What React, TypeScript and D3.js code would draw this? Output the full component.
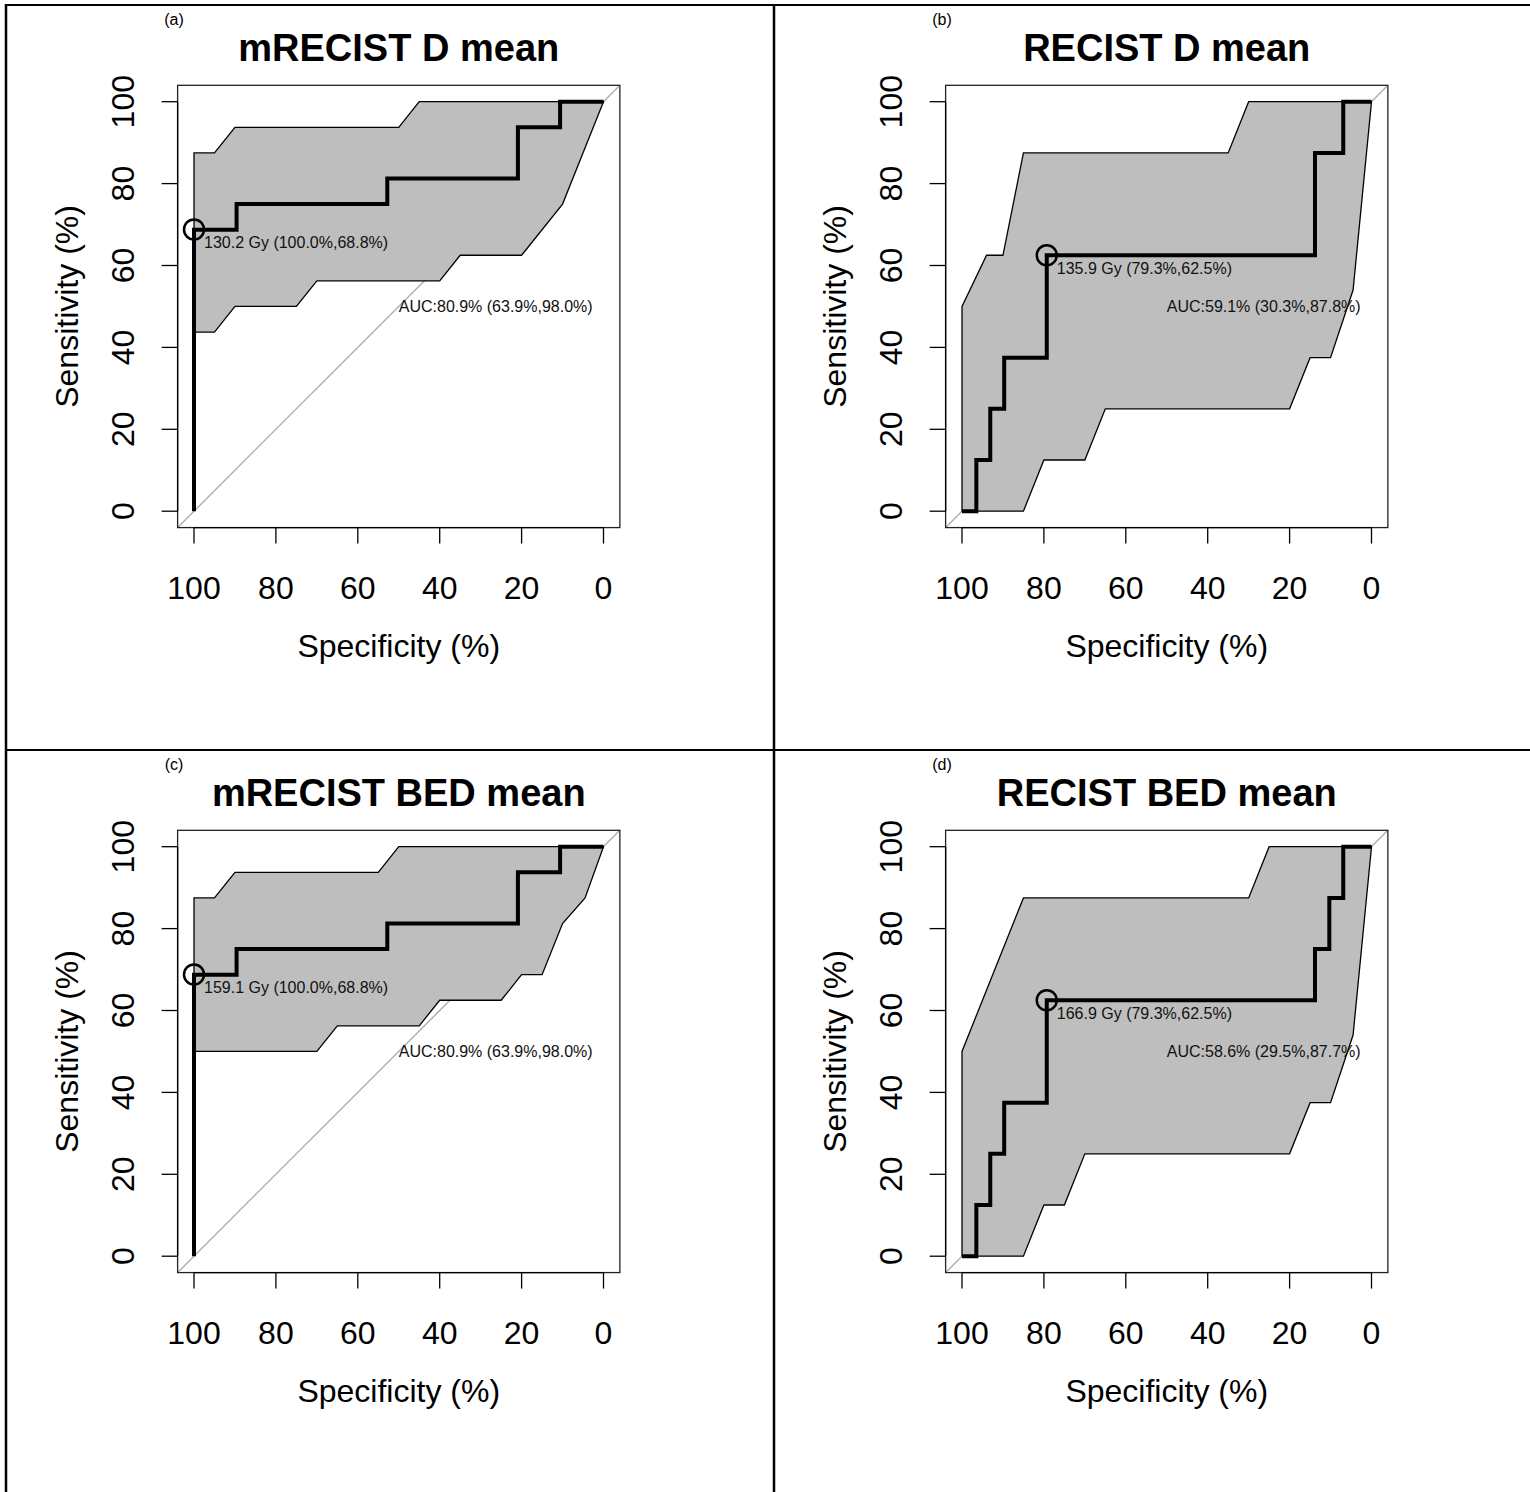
import React from "react";
import * as d3 from "d3";

// ---------- data ----------
const panelLetters = ["(a)", "(b)", "(c)", "(d)"];
const panelTitles = ["mRECIST D mean", "RECIST D mean", "mRECIST BED mean", "RECIST BED mean"];
const thresholdLabels = [
  "130.2 Gy (100.0%,68.8%)",
  "135.9 Gy (79.3%,62.5%)",
  "159.1 Gy (100.0%,68.8%)",
  "166.9 Gy (79.3%,62.5%)",
];
const aucLabels = [
  "AUC:80.9% (63.9%,98.0%)",
  "AUC:59.1% (30.3%,87.8%)",
  "AUC:80.9% (63.9%,98.0%)",
  "AUC:58.6% (29.5%,87.7%)",
];
const thresholdSpec = [100, 79.3, 100, 79.3];
const thresholdSens = [68.8, 62.5, 68.8, 62.5];
const tickValues = [0, 20, 40, 60, 80, 100];

// ROC curves (specificity %, sensitivity %)
const rocSpecA = [100, 100, 89.6, 52.8, 20.9, 10.6, 0];
const rocSensA = [0, 68.75, 75, 81.25, 93.75, 100, 100];
const rocSpecB = [100, 96.5, 93.1, 89.7, 79.3, 13.8, 6.9, 0];
const rocSensB = [0, 12.5, 25, 37.5, 62.5, 87.5, 100, 100];
const rocSpecC = [100, 100, 89.6, 52.8, 20.9, 10.6, 0];
const rocSensC = [0, 68.75, 75, 81.25, 93.75, 100, 100];
const rocSpecD = [100, 96.5, 93.1, 89.7, 79.3, 13.8, 10.3, 6.9, 0];
const rocSensD = [0, 12.5, 25, 37.5, 62.5, 75, 87.5, 100, 100];

// confidence bands: upper bound (spec 100 -> 0), lower bound (spec 0 -> 100)
const upSpecA = [100, 95, 90, 50, 45, 0];
const upSensA = [87.5, 87.5, 93.75, 93.75, 100, 100];
const loSpecA = [0, 10, 20, 35, 40, 70, 75, 90, 95, 100];
const loSensA = [100, 75, 62.5, 62.5, 56.25, 56.25, 50, 50, 43.75, 43.75];

const upSpecB = [100, 100, 94, 90, 85, 35, 30, 0];
const upSensB = [0, 50, 62.5, 62.5, 87.5, 87.5, 100, 100];
const loSpecB = [0, 4.5, 10, 15, 20, 65, 70, 80, 85, 100];
const loSensB = [100, 54, 37.5, 37.5, 25, 25, 12.5, 12.5, 0, 0];

const upSpecC = [100, 95, 90, 55, 50, 0];
const upSensC = [87.5, 87.5, 93.75, 93.75, 100, 100];
const loSpecC = [0, 4.5, 10, 15, 20, 25, 40, 45, 65, 70, 100];
const loSensC = [100, 87.5, 81.25, 68.75, 68.75, 62.5, 62.5, 56.25, 56.25, 50, 50];

const upSpecD = [100, 100, 85, 30, 25, 0];
const upSensD = [0, 50, 87.5, 87.5, 100, 100];
const loSpecD = [0, 4.5, 10, 15, 20, 70, 75, 80, 85, 100];
const loSensD = [100, 54, 37.5, 37.5, 25, 25, 12.5, 12.5, 0, 0];

const rocSpecs = [rocSpecA, rocSpecB, rocSpecC, rocSpecD];
const rocSenss = [rocSensA, rocSensB, rocSensC, rocSensD];
const upSpecs = [upSpecA, upSpecB, upSpecC, upSpecD];
const upSenss = [upSensA, upSensB, upSensC, upSensD];
const loSpecs = [loSpecA, loSpecB, loSpecC, loSpecD];
const loSenss = [loSensA, loSensB, loSensC, loSensD];

// ---------- layout ----------
const W = 1530;
const H = 1492;
const FONT = "'Liberation Sans', Arial, Helvetica, sans-serif";
const PX0 = 194; // x of spec=100 in panel a
const PY100 = 101.7; // y of sens=100 in panel a
const SPAN = 409.5;
const DX = 768;
const DY = 745;

type P = [number, number];

function Panel({ i }: { i: number }) {
  const col = i % 2;
  const row = Math.floor(i / 2);
  const x100 = PX0 + col * DX;
  const y100 = PY100 + row * DY;
  const x = d3.scaleLinear().domain([100, 0]).range([x100, x100 + SPAN]);
  const y = d3.scaleLinear().domain([0, 100]).range([y100 + SPAN, y100]);
  const ext = SPAN * 0.04;
  const bx0 = x100 - ext;
  const bx1 = x100 + SPAN + ext;
  const by0 = y100 - ext;
  const by1 = y100 + SPAN + ext;
  const cx = (bx0 + bx1) / 2;
  const cy = (by0 + by1) / 2;

  const rocPts: P[] = rocSpecs[i].map((s, k) => [s, rocSenss[i][k]]);
  const stepLine = d3
    .line<P>()
    .x((d) => x(d[0]))
    .y((d) => y(d[1]))
    .curve(d3.curveStepAfter);
  const poly = d3
    .line<P>()
    .x((d) => x(d[0]))
    .y((d) => y(d[1]));
  const bandPts: P[] = [
    ...upSpecs[i].map((s, k) => [s, upSenss[i][k]] as P),
    ...loSpecs[i].map((s, k) => [s, loSenss[i][k]] as P),
  ];

  const tx = x(thresholdSpec[i]);
  const ty = y(thresholdSens[i]);

  return (
    <g>
      <text x={x100 - 20} y={y100 - 77} fontSize={16} fontFamily={FONT} textAnchor="middle" fill="#000">
        {panelLetters[i]}
      </text>
      <text x={cx} y={y100 - 41} fontSize={38} fontWeight="bold" fontFamily={FONT} textAnchor="middle" fill="#000">
        {panelTitles[i]}
      </text>
      {/* diagonal (drawn beneath the band) */}
      <line x1={bx0} y1={by1} x2={bx1} y2={by0} stroke="#AAAAAA" strokeWidth={1.3} />
      {/* band */}
      <path d={(poly(bandPts) || "") + "Z"} fill="#BEBEBE" stroke="#000" strokeWidth={1.3} />
      {/* ROC */}
      <path d={stepLine(rocPts) || ""} fill="none" stroke="#000" strokeWidth={4} strokeLinejoin="miter" />
      {/* threshold */}
      <circle cx={tx} cy={ty} r={10} fill="none" stroke="#000" strokeWidth={2.5} />
      <text x={tx + 10} y={ty + 18.5} fontSize={16} fontFamily={FONT} fill="#111">
        {thresholdLabels[i]}
      </text>
      <text x={x(50)} y={y(50) + 6} fontSize={16} fontFamily={FONT} fill="#111">
        {aucLabels[i]}
      </text>
      {/* box */}
      <rect x={bx0} y={by0} width={bx1 - bx0} height={by1 - by0} fill="none" stroke="#222" strokeWidth={1.3} />
      {/* x axis */}
      <line x1={x(100)} x2={x(0)} y1={by1} y2={by1} stroke="#000" strokeWidth={1.3} />
      {tickValues.map((t) => (
        <g key={"x" + t}>
          <line x1={x(t)} x2={x(t)} y1={by1} y2={by1 + 16} stroke="#000" strokeWidth={1.3} />
          <text x={x(t)} y={by1 + 71} fontSize={32} fontFamily={FONT} textAnchor="middle" fill="#000">
            {t}
          </text>
        </g>
      ))}
      <text x={cx} y={by1 + 129} fontSize={32} fontFamily={FONT} textAnchor="middle" fill="#000">
        Specificity (%)
      </text>
      {/* y axis */}
      <line x1={bx0} x2={bx0} y1={y(0)} y2={y(100)} stroke="#000" strokeWidth={1.3} />
      {tickValues.map((t) => (
        <g key={"y" + t}>
          <line x1={bx0 - 16} x2={bx0} y1={y(t)} y2={y(t)} stroke="#000" strokeWidth={1.3} />
          <text
            transform={`translate(${bx0 - 44},${y(t)}) rotate(-90)`}
            fontSize={32}
            fontFamily={FONT}
            textAnchor="middle"
            fill="#000"
          >
            {t}
          </text>
        </g>
      ))}
      <text
        transform={`translate(${bx0 - 100},${cy}) rotate(-90)`}
        fontSize={32}
        fontFamily={FONT}
        textAnchor="middle"
        fill="#000"
      >
        Sensitivity (%)
      </text>
    </g>
  );
}

export default function App() {
  return (
    <svg
      width={W}
      height={H}
      viewBox={`0 0 ${W} ${H}`}
      style={{ position: "absolute", left: 0, top: 0, background: "#fff" }}
    >
      <rect x={0} y={0} width={W} height={H} fill="#fff" />
      {/* table borders */}
      <line x1={5} x2={W} y1={5} y2={5} stroke="#000" strokeWidth={2} />
      <line x1={6} x2={6} y1={4} y2={H} stroke="#000" strokeWidth={2.5} />
      <line x1={774} x2={774} y1={4} y2={H} stroke="#000" strokeWidth={2.5} />
      <line x1={5} x2={W} y1={750} y2={750} stroke="#000" strokeWidth={2} />
      {[0, 1, 2, 3].map((i) => (
        <Panel key={i} i={i} />
      ))}
    </svg>
  );
}
